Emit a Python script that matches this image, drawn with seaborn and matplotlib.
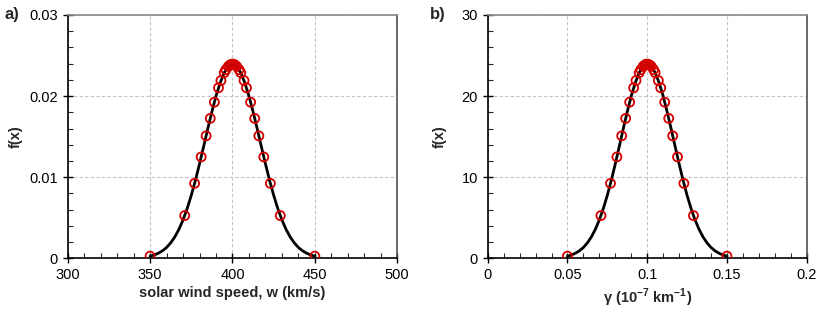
import numpy as np
import pandas as pd
import matplotlib
matplotlib.use("Agg")
import matplotlib.pyplot as plt
from matplotlib.ticker import MultipleLocator
import seaborn as sns

# panel a: solar wind speed pdf (smooth curve + sample points)
w_curve = [350, 352.5, 355, 357.5, 360, 362.5, 365, 367.5, 370, 372.5, 375,
           377.5, 380, 382.5, 385, 387.5, 390, 392.5, 395, 397.5, 400,
           402.5, 405, 407.5, 410, 412.5, 415, 417.5, 420, 422.5, 425,
           427.5, 430, 432.5, 435, 437.5, 440, 442.5, 445, 447.5, 450]
f_curve_a = [0.00027, 0.00041, 0.00063, 0.00093, 0.00134, 0.00191, 0.00264,
             0.00358, 0.00474, 0.00614, 0.00777, 0.00962, 0.01165, 0.01380,
             0.01597, 0.01807, 0.02000, 0.02163, 0.02289, 0.02367, 0.02394,
             0.02367, 0.02289, 0.02163, 0.02000, 0.01807, 0.01597, 0.01380,
             0.01165, 0.00962, 0.00777, 0.00614, 0.00474, 0.00358, 0.00264,
             0.00191, 0.00134, 0.00093, 0.00063, 0.00041, 0.00027]

w_pts = [350, 371, 377, 381, 384, 386.5, 389, 391.5, 393, 395, 396, 397.5,
         398.5, 399.5, 400.5, 401.5, 402.5, 404, 405, 407, 408.5, 411, 413.5,
         416, 419, 423, 429, 450]
f_pts_a = [0.00027, 0.00527, 0.00924, 0.01250, 0.01510, 0.01725, 0.01925,
           0.02102, 0.02192, 0.02289, 0.02326, 0.02367, 0.02384, 0.02393,
           0.02393, 0.02384, 0.02367, 0.02326, 0.02289, 0.02192, 0.02102,
           0.01925, 0.01725, 0.01510, 0.01250, 0.00924, 0.00527, 0.00027]

# panel b: gamma pdf
g_curve = [0.05, 0.0525, 0.055, 0.0575, 0.06, 0.0625, 0.065, 0.0675, 0.07,
           0.0725, 0.075, 0.0775, 0.08, 0.0825, 0.085, 0.0875, 0.09, 0.0925,
           0.095, 0.0975, 0.1, 0.1025, 0.105, 0.1075, 0.11, 0.1125, 0.115,
           0.1175, 0.12, 0.1225, 0.125, 0.1275, 0.13, 0.1325, 0.135, 0.1375,
           0.14, 0.1425, 0.145, 0.1475, 0.15]
f_curve_b = [0.27, 0.41, 0.63, 0.93, 1.34, 1.91, 2.64, 3.58, 4.74, 6.14, 7.77,
             9.62, 11.65, 13.80, 15.97, 18.07, 20.00, 21.63, 22.89, 23.67,
             23.94, 23.67, 22.89, 21.63, 20.00, 18.07, 15.97, 13.80, 11.65,
             9.62, 7.77, 6.14, 4.74, 3.58, 2.64, 1.91, 1.34, 0.93, 0.63, 0.41,
             0.27]

g_pts = [0.05, 0.071, 0.077, 0.081, 0.084, 0.0865, 0.089, 0.0915, 0.093,
         0.095, 0.096, 0.0975, 0.0985, 0.0995, 0.1005, 0.1015, 0.1025, 0.104,
         0.105, 0.107, 0.1085, 0.111, 0.1135, 0.116, 0.119, 0.123, 0.129,
         0.15]
f_pts_b = [0.27, 5.27, 9.24, 12.50, 15.10, 17.25, 19.25, 21.02, 21.92, 22.89,
           23.26, 23.67, 23.84, 23.93, 23.93, 23.84, 23.67, 23.26, 22.89,
           21.92, 21.02, 19.25, 17.25, 15.10, 12.50, 9.24, 5.27, 0.27]

sns.set_style("ticks")
plt.rcParams['font.family'] = ['Liberation Sans', 'DejaVu Sans']
plt.rcParams['mathtext.fontset'] = 'custom'
plt.rcParams['mathtext.rm'] = 'Liberation Sans'
plt.rcParams['mathtext.bf'] = 'Liberation Sans:bold'

fig = plt.figure(figsize=(8.3, 3.12), dpi=100)
ax1 = fig.add_axes([0.0816, 0.172, 0.397, 0.780])
ax2 = fig.add_axes([0.5876, 0.172, 0.3843, 0.780])


def style(ax, xlim, ylim, xmaj, xmin, ymaj, ymin):
    ax.set_xlim(*xlim)
    ax.set_ylim(*ylim)
    ax.xaxis.set_major_locator(MultipleLocator(xmaj))
    ax.xaxis.set_minor_locator(MultipleLocator(xmin))
    ax.yaxis.set_major_locator(MultipleLocator(ymaj))
    ax.yaxis.set_minor_locator(MultipleLocator(ymin))
    ax.tick_params(which='major', direction='inout', length=7, width=1,
                   labelsize=10.5, colors='black')
    ax.tick_params(which='minor', direction='in', length=3.5, width=0.8)
    ax.grid(True, which='major', color='#c4c4c4', linestyle=(0, (3, 2)),
            linewidth=0.8)
    ax.set_axisbelow(True)
    for s in ['left', 'bottom']:
        ax.spines[s].set_color('black')
        ax.spines[s].set_linewidth(1.2)
    ax.spines['top'].set_color('#8a8a8a')
    ax.spines['right'].set_color('#505050')
    ax.spines['top'].set_linewidth(1.2)
    ax.spines['right'].set_linewidth(1.2)
    ax.set_ylabel('f(x)', fontsize=10.5, fontweight='bold')


df_a = pd.DataFrame({'x': w_curve, 'y': f_curve_a})
pts_a = pd.DataFrame({'x': w_pts, 'y': f_pts_a})
sns.lineplot(data=df_a, x='x', y='y', ax=ax1, color='black', linewidth=2.0)
sns.scatterplot(data=pts_a, x='x', y='y', ax=ax1, marker='o', s=42,
                facecolor='none', edgecolor='#d40000', linewidth=1.3, zorder=3)
style(ax1, (300, 500), (0, 0.03), 50, 10, 0.01, 0.002)
ax1.set_yticks([0, 0.01, 0.02, 0.03])
ax1.set_yticklabels(['0', '0.01', '0.02', '0.03'])
ax1.set_xlabel('solar wind speed, w (km/s)', fontsize=10.5, fontweight='bold',
               labelpad=3)
ax1.yaxis.set_label_coords(-0.135, 0.5)

df_b = pd.DataFrame({'x': g_curve, 'y': f_curve_b})
pts_b = pd.DataFrame({'x': g_pts, 'y': f_pts_b})
sns.lineplot(data=df_b, x='x', y='y', ax=ax2, color='black', linewidth=2.0)
sns.scatterplot(data=pts_b, x='x', y='y', ax=ax2, marker='o', s=42,
                facecolor='none', edgecolor='#d40000', linewidth=1.3, zorder=3)
style(ax2, (0, 0.2), (0, 30), 0.05, 0.01, 10, 2)
ax2.set_xticks([0, 0.05, 0.1, 0.15, 0.2])
ax2.set_xticklabels(['0', '0.05', '0.1', '0.15', '0.2'])
ax2.set_xlabel(r'γ (10$^{\mathbf{-7}}$ km$^{\mathbf{-1}}$)', fontsize=10.5,
               fontweight='bold', labelpad=3)
ax2.yaxis.set_label_coords(-0.127, 0.5)

fig.text(0.006, 0.955, 'a)', fontsize=12, fontweight='bold', va='center')
fig.text(0.518, 0.955, 'b)', fontsize=12, fontweight='bold', va='center')

fig.savefig('out.png', dpi=100)
